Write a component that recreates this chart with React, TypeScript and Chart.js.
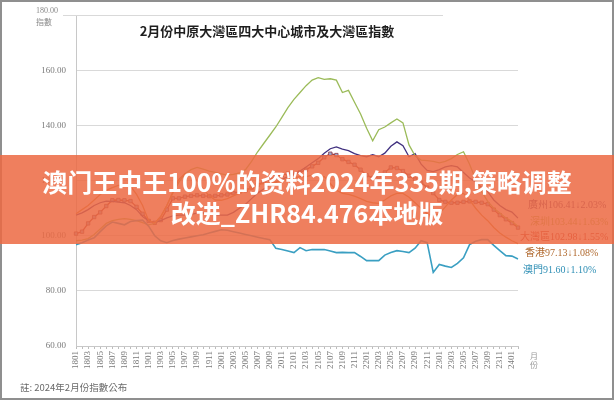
import React, { useEffect, useRef } from 'react';
import { Chart, registerables } from 'chart.js';

Chart.register(...registerables);

const months: string[] = [
  '1801','1802','1803','1804','1805','1806','1807','1808','1809','1810','1811','1812',
  '1901','1902','1903','1904','1905','1906','1907','1908','1909','1910','1911','1912',
  '2001','2002','2003','2004','2005','2006','2007','2008','2009','2010','2011','2012',
  '2101','2102','2103','2104','2105','2106','2107','2108','2109','2110','2111','2112',
  '2201','2202','2203','2204','2205','2206','2207','2208','2209','2210','2211','2212',
  '2301','2302','2303','2304','2305','2306','2307','2308','2309','2310','2311','2312',
  '2401','2402',
];

const shenzhen: number[] = [
  98.2, 98.4, 99.0, 100.5, 102.5, 104.5, 105.5, 106.0, 106.2, 106.0, 105.5, 104.8,
  104.0, 104.5, 107.0, 111.0, 115.5, 119.5, 122.5, 124.0, 124.8, 124.2, 123.5, 123.0,
  122.5, 122.0, 122.3, 122.8, 124.0, 127.0, 130.5, 133.5, 136.5, 139.5, 143.0, 146.5,
  149.5, 152.0, 154.5, 156.5, 157.4, 156.8, 157.0, 156.5, 152.0, 152.8, 148.5, 144.2,
  139.0, 134.5, 138.5, 139.5, 141.0, 142.4, 141.0, 133.0, 129.0, 127.5, 127.3, 127.0,
  126.5, 127.0, 128.0, 129.5, 130.5, 126.0, 120.5, 116.0, 112.5, 110.0, 108.3, 106.5,
  105.15, 103.44,
];

const guangzhou: number[] = [
  107.5, 108.3, 109.5, 111.0, 112.0, 112.6, 112.5, 112.2, 112.0, 111.0, 109.5, 107.0,
  105.4, 104.8, 105.5, 106.5, 107.2, 107.5, 107.5, 107.8, 108.2, 108.3, 108.0, 107.6,
  107.5, 107.5, 108.5, 110.0, 111.5, 113.5, 115.5, 117.0, 118.5, 119.5, 120.5, 121.5,
  122.5, 123.5, 125.0, 126.5, 128.0, 130.0, 131.6, 132.3, 131.5, 130.9, 129.8, 129.1,
  128.7, 129.4, 128.7, 130.0, 132.5, 134.1, 132.7, 128.7, 129.8, 126.0, 123.7, 123.3,
  124.0, 125.0, 125.5, 125.0, 123.0, 121.0, 119.5, 117.5, 116.0, 113.0, 111.0, 109.5,
  108.62, 106.41,
];

const greaterBay: number[] = [
  100.8, 101.5, 104.5, 106.8, 108.5, 110.8, 112.9, 113.0, 112.9, 112.6, 110.5, 108.0,
  105.4, 104.7, 105.7, 109.5, 113.6, 113.6, 114.2, 114.5, 114.7, 114.5, 114.4, 114.5,
  114.7, 115.0, 115.5, 116.0, 116.5, 117.5, 118.5, 119.5, 120.5, 121.3, 122.0, 122.6,
  122.5, 123.0, 124.0, 125.2, 126.5, 128.5, 129.8, 129.3, 127.8, 126.8, 125.8, 124.0,
  122.0, 121.0, 121.5, 123.0, 124.8, 124.6, 123.5, 121.8, 120.5, 119.3, 117.5, 115.5,
  113.0, 112.3, 112.0, 112.0, 112.3, 112.5, 112.3, 112.0, 111.5, 109.5, 107.5, 106.0,
  104.6, 102.98,
];

const hongkong: number[] = [
  108.0, 109.5, 111.0, 113.0, 115.0, 116.5, 117.5, 118.3, 118.3, 118.0, 115.0, 111.0,
  105.5, 104.7, 107.0, 111.0, 116.0, 120.5, 122.6, 122.5, 120.0, 117.0, 114.5, 113.0,
  112.9, 113.5, 114.5, 115.5, 116.5, 117.5, 118.5, 119.0, 119.0, 119.5, 120.0, 120.5,
  121.0, 121.5, 121.5, 122.0, 121.8, 121.5, 119.0, 116.5, 115.4, 115.0, 114.4, 113.5,
  112.5, 112.0, 111.8, 113.0, 114.5, 115.4, 115.4, 114.0, 112.0, 110.0, 108.0, 107.0,
  108.0, 110.5, 113.0, 115.0, 115.4, 113.0, 110.0, 107.5, 105.5, 103.0, 101.0, 99.5,
  98.19, 97.13,
];

const macau: number[] = [
  96.8, 97.5, 98.5, 99.3, 101.5, 103.6, 105.0, 104.5, 104.0, 105.2, 105.5, 105.7,
  103.5, 100.0, 98.2, 97.5, 98.3, 98.8, 99.2, 99.6, 100.0, 100.4, 101.0, 101.6,
  102.2, 102.0, 101.5, 101.0, 100.5, 100.0, 99.5, 99.0, 98.6, 95.5, 95.0, 94.5,
  93.9, 95.7, 94.6, 95.0, 95.0, 95.0, 94.5, 93.9, 94.0, 93.9, 93.9, 92.5,
  91.0, 91.0, 91.0, 93.0, 93.9, 94.6, 94.3, 93.9, 95.5, 98.2, 97.5, 86.7,
  89.6, 89.0, 88.5, 90.0, 92.0, 96.8, 98.0, 98.6, 98.6, 96.5, 94.6, 92.8,
  92.62, 91.60,
];

const yTicks: number[] = [60, 80, 100, 120, 140, 160, 180];

const endLabels = [
  { text: '廣州106.41↓2.03%', color: '#5b3a7a', left: 528, top: 203 },
  { text: '深圳103.44↓1.63%', color: '#9bbb59', left: 530, top: 220 },
  { text: '大灣區102.98↓1.55%', color: '#c0302c', left: 520, top: 235 },
  { text: '香港97.13↓1.08%', color: '#b0692e', left: 525, top: 251 },
  { text: '澳門91.60↓1.10%', color: '#2f8fb5', left: 523, top: 268 },
];

const CJK = '"Noto Sans CJK TC", "Noto Sans CJK SC", sans-serif';

// Top gridline (180) is drawn shorter in the reference, from left of the axis to under the title end
const topLinePlugin = {
  id: 'topLine',
  beforeDatasetsDraw(chart: any) {
    const y = chart.scales.y.getPixelForValue(yTicks[yTicks.length - 1]);
    const ctx = chart.ctx;
    ctx.save();
    ctx.strokeStyle = '#d9d9d9';
    ctx.lineWidth = 1;
    ctx.beginPath();
    ctx.moveTo(63, Math.round(y) + 0.5);
    ctx.lineTo(443, Math.round(y) + 0.5);
    ctx.stroke();
    ctx.restore();
  },
};

export default function App() {
  const canvasRef = useRef<HTMLCanvasElement | null>(null);

  useEffect(() => {
    const canvas = canvasRef.current;
    if (!canvas) return;
    const chart = new Chart(canvas, {
      type: 'line',
      data: {
        labels: months,
        datasets: [
          {
            label: '澳門',
            data: macau,
            borderColor: '#3a9fc2',
            borderWidth: 1.6,
            pointRadius: 0,
            tension: 0,
          },
          {
            label: '香港',
            data: hongkong,
            borderColor: '#d0863c',
            borderWidth: 1.3,
            pointRadius: 0,
            tension: 0,
          },
          {
            label: '深圳',
            data: shenzhen,
            borderColor: '#9bbb59',
            borderWidth: 1.3,
            pointRadius: 0,
            tension: 0,
          },
          {
            label: '廣州',
            data: guangzhou,
            borderColor: '#40307f',
            borderWidth: 1.3,
            pointRadius: 0,
            tension: 0,
          },
          {
            label: '大灣區',
            data: greaterBay,
            borderColor: '#a33a3a',
            borderWidth: 1.3,
            pointStyle: 'rect',
            pointRadius: 2.4,
            pointBackgroundColor: '#9aaad0',
            pointBorderColor: '#8a3a48',
            pointBorderWidth: 0.8,
            tension: 0,
          },
        ],
      },
      options: {
        responsive: false,
        animation: false,
        devicePixelRatio: 1,
        layout: { padding: { left: 0, right: 96, top: 12, bottom: 0 } },
        plugins: {
          legend: { display: false },
          tooltip: { enabled: false },
          title: { display: false },
        },
        scales: {
          x: {
            type: 'category',
            offset: false,
            grid: {
              display: true,
              drawOnChartArea: false,
              drawTicks: true,
              tickLength: 3,
              color: '#bdbdbd',
            },
            border: { display: true, color: '#c8c8c8' },
            ticks: {
              autoSkip: false,
              minRotation: 90,
              maxRotation: 90,
              padding: 2,
              color: '#7a7a7a',
              font: { family: '"Liberation Serif", serif', size: 9 },
              callback: (_v: any, i: number) => (i % 2 === 0 ? months[i] : ''),
            },
            afterFit: (scale: any) => {
              scale.height = 54;
            },
          },
          y: {
            min: yTicks[0],
            max: yTicks[yTicks.length - 1],
            afterBuildTicks: (scale: any) => {
              scale.ticks = yTicks.map((v) => ({ value: v }));
            },
            grid: {
              color: (ctx: any) =>
                ctx.tick && ctx.tick.value === yTicks[yTicks.length - 1] ? 'rgba(0,0,0,0)' : '#d9d9d9',
              drawTicks: false,
            },
            border: { display: true, color: '#c8c8c8' },
            ticks: {
              padding: 10,
              color: '#7a7a7a',
              font: { family: '"Liberation Serif", serif', size: 9 },
              callback: (v: any) => (Number(v) === 180 ? '' : Number(v).toFixed(2)),
            },
            afterFit: (scale: any) => {
              scale.width = 76;
            },
          },
        },
      },
      plugins: [topLinePlugin],
    });
    return () => chart.destroy();
  }, []);

  return (
    <div
      style={{
        position: 'fixed',
        left: 0,
        top: 0,
        width: 614,
        height: 400,
        background: '#ffffff',
        overflow: 'hidden',
      }}
    >
      <canvas
        ref={canvasRef}
        width={614}
        height={400}
        style={{ position: 'absolute', left: 0, top: 0, width: 614, height: 400, display: 'block' }}
      />
      <div
        style={{
          position: 'absolute',
          left: 0,
          top: 30,
          width: 534,
          textAlign: 'center',
          transform: 'translateY(-50%)',
          font: `600 13px ${CJK}`,
          color: '#1e1e1e',
          whiteSpace: 'nowrap',
        }}
      >
        2月份中原大灣區四大中心城市及大灣區指數
      </div>
      <div
        style={{
          position: 'absolute',
          left: 36,
          top: 6,
          font: '8px "Liberation Serif", serif',
          color: '#8a8a8a',
          lineHeight: '10px',
        }}
      >
        180.00
      </div>
      <div
        style={{
          position: 'absolute',
          left: 36,
          top: 17,
          font: `8px ${CJK}`,
          color: '#8a8a8a',
          lineHeight: '10px',
        }}
      >
        指數
      </div>
      <div
        style={{
          position: 'absolute',
          left: 530,
          top: 351,
          font: `8px ${CJK}`,
          color: '#9a9a9a',
          lineHeight: '9px',
          width: 10,
        }}
      >
        月<br />份
      </div>
      <div
        style={{
          position: 'absolute',
          left: 20,
          top: 387,
          transform: 'translateY(-50%)',
          font: `9.5px ${CJK}`,
          color: '#6a6a6a',
          whiteSpace: 'nowrap',
        }}
      >
        註: 2024年2月份指數公布
      </div>
      {endLabels.map((l) => (
        <div
          key={l.text}
          style={{
            position: 'absolute',
            left: l.left,
            top: l.top,
            transform: 'translateY(-50%)',
            font: `10px "Liberation Serif", ${CJK}`,
            color: l.color,
            whiteSpace: 'nowrap',
          }}
        >
          {l.text}
        </div>
      ))}
      <div
        style={{
          position: 'absolute',
          left: 0,
          top: 0,
          width: 614,
          height: 400,
          boxSizing: 'border-box',
          border: '2px solid #8f8f8f',
          pointerEvents: 'none',
        }}
      />
      <div
        style={{
          position: 'absolute',
          left: 0,
          top: 155,
          width: 614,
          height: 89,
          background: 'rgba(236,106,68,0.86)',
        }}
      />
      <div
        style={{
          position: 'absolute',
          left: 0,
          top: 166,
          width: 614,
          textAlign: 'center',
          font: `700 25px ${CJK}`,
          color: '#ffffff',
          lineHeight: '31px',
          whiteSpace: 'nowrap',
        }}
      >
        澳门王中王100%的资料2024年335期,策略调整
        <br />
        改进_ZHR84.476本地版
      </div>
    </div>
  );
}
